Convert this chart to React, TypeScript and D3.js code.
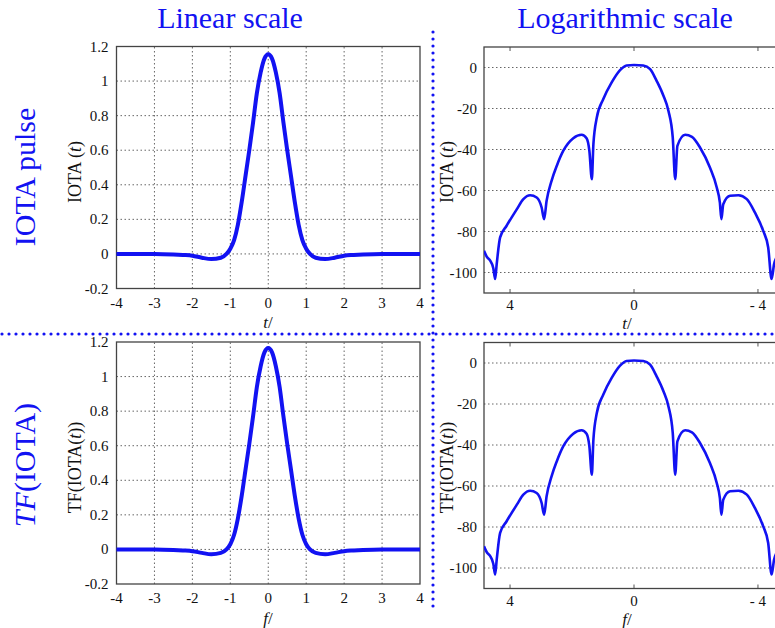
import React, { useEffect, useRef } from 'react';
import * as d3 from 'd3';

// linear-scale pulse
const linT = [-4, -3.5, -3, -2.5, -2.25, -2, -1.75, -1.5, -1.25, -1.1, -1, -0.9, -0.8, -0.7, -0.6, -0.5, -0.4, -0.3, -0.2, -0.1, 0,
  0.1, 0.2, 0.3, 0.4, 0.5, 0.6, 0.7, 0.8, 0.9, 1, 1.1, 1.25, 1.5, 1.75, 2, 2.25, 2.5, 3, 3.5, 4];
const iotaLin = [0, 0, 0, -0.003, -0.006, -0.01, -0.022, -0.03, -0.022, 0, 0.03, 0.08, 0.17, 0.3, 0.45, 0.6, 0.76, 0.93, 1.05, 1.13, 1.155,
  1.13, 1.05, 0.93, 0.76, 0.6, 0.45, 0.3, 0.17, 0.08, 0.03, 0, -0.022, -0.03, -0.022, -0.01, -0.006, -0.003, 0, 0, 0];
const tfLin = [0, 0, 0, -0.003, -0.006, -0.01, -0.02, -0.028, -0.02, 0, 0.03, 0.085, 0.18, 0.31, 0.46, 0.61, 0.77, 0.94, 1.06, 1.14, 1.165,
  1.14, 1.06, 0.94, 0.77, 0.61, 0.46, 0.31, 0.18, 0.085, 0.03, 0, -0.02, -0.028, -0.02, -0.01, -0.006, -0.003, 0, 0, 0];

// log-scale (dB), axis runs from +t on the left to -t on the right
const logT = [4.84, 4.75, 4.65, 4.54, 4.48, 4.43, 4.32, 4.11, 3.78, 3.57, 3.35, 3.14, 2.98, 2.9, 2.82, 2.66, 2.49, 2.28, 1.96, 1.69,
  1.53, 1.44, 1.36, 1.31, 1.2, 0.99, 0.72, 0.45, 0.24, 0, -0.3, -0.52, -0.73, -0.95, -1.11, -1.25, -1.33, -1.4, -1.65, -1.87,
  -2.13, -2.45, -2.67, -2.77, -2.82, -2.88, -3.1, -3.37, -3.64, -3.9, -4.17, -4.33, -4.44, -4.52, -4.6];
const iotaDb = [-89.4, -92.3, -94, -97.9, -103.2, -95.9, -82.9, -77.2, -69.1, -64.2, -62.3, -63.4, -68.3, -74, -65, -55.3, -47.9, -40.6, -34.5, -32.8,
  -34.5, -40.6, -54.5, -37.4, -24.4, -15.4, -7.3, -1.3, 1, 1.2, 1, -0.8, -6.5, -13.8, -21.1, -34.1, -54.5, -38.2, -32.8, -33.8,
  -39, -48.8, -58.5, -65.8, -74, -66.7, -62.6, -62.3, -64.2, -70.7, -79.7, -87.8, -103.2, -95.9, -92.6];
const tfDb = iotaDb;

const linXTicks = [-4, -3, -2, -1, 0, 1, 2, 3, 4];
const linYTicks = [-0.2, 0, 0.2, 0.4, 0.6, 0.8, 1, 1.2];
const logXTicks = [4, 0, -4];
const logYTicks = [0, -20, -40, -60, -80, -100];

const BLUE = '#1212f2';
const SERIF = '"Liberation Serif", "Times New Roman", serif';
const ROW_DY = 295.5;

const App = () => {
  const ref = useRef<SVGSVGElement>(null);

  useEffect(() => {
    const svg = d3.select(ref.current);
    svg.selectAll('*').remove();

    const rotLabel = (x, y, parts, size, color) => {
      const t = svg.append('text')
        .attr('transform', `translate(${x},${y}) rotate(-90)`)
        .attr('text-anchor', 'middle')
        .attr('dominant-baseline', 'central')
        .attr('font-family', SERIF)
        .attr('font-size', size)
        .attr('fill', color);
      parts.forEach(([s, it]) => t.append('tspan').attr('font-style', it ? 'italic' : 'normal').text(s));
    };
    const xLabel = (x, y, letter) => {
      const t = svg.append('text')
        .attr('x', x).attr('y', y)
        .attr('text-anchor', 'middle')
        .attr('font-family', SERIF)
        .attr('font-size', 17)
        .attr('fill', '#111');
      t.append('tspan').attr('font-style', 'italic').text(letter);
      t.append('tspan').text('/');
    };

    const linearPanel = (dy, vals, yTitle, xLetter) => {
      const x = d3.scaleLinear().domain([-4, 4]).range([116.5, 420]);
      const y = d3.scaleLinear().domain([-0.2, 1.2]).range([288.5 + dy, 46.5 + dy]);
      const g = svg.append('g');
      const [x0, x1] = x.range();
      const [y0, y1] = y.range();

      g.selectAll('.vg').data(linXTicks.slice(1, -1)).enter().append('line')
        .attr('x1', d => x(d)).attr('x2', d => x(d)).attr('y1', y0).attr('y2', y1)
        .attr('stroke', '#666').attr('stroke-dasharray', '1.5,2.5');
      g.selectAll('.hg').data(linYTicks.slice(1, -1)).enter().append('line')
        .attr('y1', d => y(d)).attr('y2', d => y(d)).attr('x1', x0).attr('x2', x1)
        .attr('stroke', '#666').attr('stroke-dasharray', '1.5,2.5');
      g.append('rect').attr('x', x0).attr('y', y1).attr('width', x1 - x0).attr('height', y0 - y1)
        .attr('fill', 'none').attr('stroke', '#444').attr('stroke-width', 1.3);

      g.selectAll('.xt').data(linXTicks).enter().append('text')
        .attr('x', d => x(d)).attr('y', y0 + 14)
        .attr('text-anchor', 'middle').attr('dominant-baseline', 'central')
        .attr('font-family', SERIF).attr('font-size', 15).attr('fill', '#111')
        .text(d => String(d));
      g.selectAll('.yt').data(linYTicks).enter().append('text')
        .attr('x', x0 - 8).attr('y', d => y(d))
        .attr('text-anchor', 'end').attr('dominant-baseline', 'central')
        .attr('font-family', SERIF).attr('font-size', 15).attr('fill', '#111')
        .text(d => String(d));

      const line = d3.line<number>()
        .x((_, i) => x(linT[i]))
        .y(d => y(d))
        .curve(d3.curveMonotoneX);
      g.append('path').attr('d', line(vals)).attr('fill', 'none')
        .attr('stroke', BLUE).attr('stroke-width', 4).attr('stroke-linejoin', 'round');

      rotLabel(75, 172 + dy, yTitle, 18, '#111');
      xLabel(268, 328 + dy, xLetter);
    };

    const logPanel = (dy, vals, yTitle, xLetter, clipId) => {
      const x = d3.scaleLinear().domain([4.84, -4.84]).range([484, 784]);
      const y = d3.scaleLinear().domain([-110, 10]).range([293 + dy, 47 + dy]);
      const g = svg.append('g');
      const [x0, x1] = x.range();
      const [y0, y1] = y.range();

      svg.append('clipPath').attr('id', clipId).append('rect')
        .attr('x', x0).attr('y', y1).attr('width', x1 - x0).attr('height', y0 - y1);

      g.selectAll('.hg').data(logYTicks).enter().append('line')
        .attr('y1', d => y(d)).attr('y2', d => y(d)).attr('x1', x0).attr('x2', x1)
        .attr('stroke', '#666').attr('stroke-dasharray', '1.5,2.5');
      g.selectAll('.tt').data(logXTicks).enter().append('line')
        .attr('x1', d => x(d)).attr('x2', d => x(d)).attr('y1', y1).attr('y2', y1 + 4)
        .attr('stroke', '#555');
      g.selectAll('.bt').data(logXTicks).enter().append('line')
        .attr('x1', d => x(d)).attr('x2', d => x(d)).attr('y1', y0).attr('y2', y0 - 4)
        .attr('stroke', '#555');
      g.append('rect').attr('x', x0).attr('y', y1).attr('width', x1 - x0).attr('height', y0 - y1)
        .attr('fill', 'none').attr('stroke', '#444').attr('stroke-width', 1.3);

      g.selectAll('.xt').data(logXTicks).enter().append('text')
        .attr('x', d => x(d)).attr('y', y0 + 12)
        .attr('text-anchor', 'middle').attr('dominant-baseline', 'central')
        .attr('font-family', SERIF).attr('font-size', 15).attr('fill', '#111')
        .text(d => (d < 0 ? `- ${-d}` : String(d)));
      g.selectAll('.yt').data(logYTicks).enter().append('text')
        .attr('x', x0 - 7).attr('y', d => y(d))
        .attr('text-anchor', 'end').attr('dominant-baseline', 'central')
        .attr('font-family', SERIF).attr('font-size', 15).attr('fill', '#111')
        .text(d => String(d));

      const line = d3.line<number>()
        .x((_, i) => x(logT[i]))
        .y(d => y(d))
        .curve(d3.curveMonotoneX);
      g.append('path').attr('d', line(vals)).attr('fill', 'none')
        .attr('clip-path', `url(#${clipId})`)
        .attr('stroke', BLUE).attr('stroke-width', 2.6).attr('stroke-linejoin', 'round');

      rotLabel(447, 172 + dy, yTitle, 18, '#111');
      xLabel(627, 329 + dy, xLetter);
    };

    linearPanel(0, iotaLin, [['IOTA ('], ['t', true], [')']], 't');
    logPanel(0, iotaDb, [['IOTA ('], ['t', true], [')']], 't', 'clipTop');
    linearPanel(ROW_DY, tfLin, [['TF(IOTA('], ['t', true], ['))']], 'f');
    logPanel(ROW_DY, tfDb, [['TF(IOTA('], ['t', true], ['))']], 'f', 'clipBot');

    // column titles
    [['Linear scale', 230], ['Logarithmic scale', 625]].forEach(([s, cx]) => {
      svg.append('text').attr('x', cx).attr('y', 28)
        .attr('text-anchor', 'middle')
        .attr('font-family', SERIF).attr('font-size', 30).attr('fill', BLUE)
        .text(s);
    });
    // row titles
    rotLabel(24, 177, [['IOTA pulse']], 30, BLUE);
    rotLabel(24, 465, [['TF', true], ['(IOTA)']], 30, BLUE);

    // dotted separators
    svg.append('line').attr('x1', 433).attr('x2', 433).attr('y1', 32).attr('y2', 613)
      .attr('stroke', BLUE).attr('stroke-width', 3.2).attr('stroke-linecap', 'round')
      .attr('stroke-dasharray', '0,7');
    svg.append('line').attr('x1', 2).attr('x2', 775).attr('y1', 334).attr('y2', 334)
      .attr('stroke', BLUE).attr('stroke-width', 3.2).attr('stroke-linecap', 'round')
      .attr('stroke-dasharray', '0,7');
  }, []);

  return (
    <svg ref={ref} width={775} height={628}
      style={{ position: 'absolute', left: 0, top: 0, background: '#fff' }} />
  );
};

export default App;
